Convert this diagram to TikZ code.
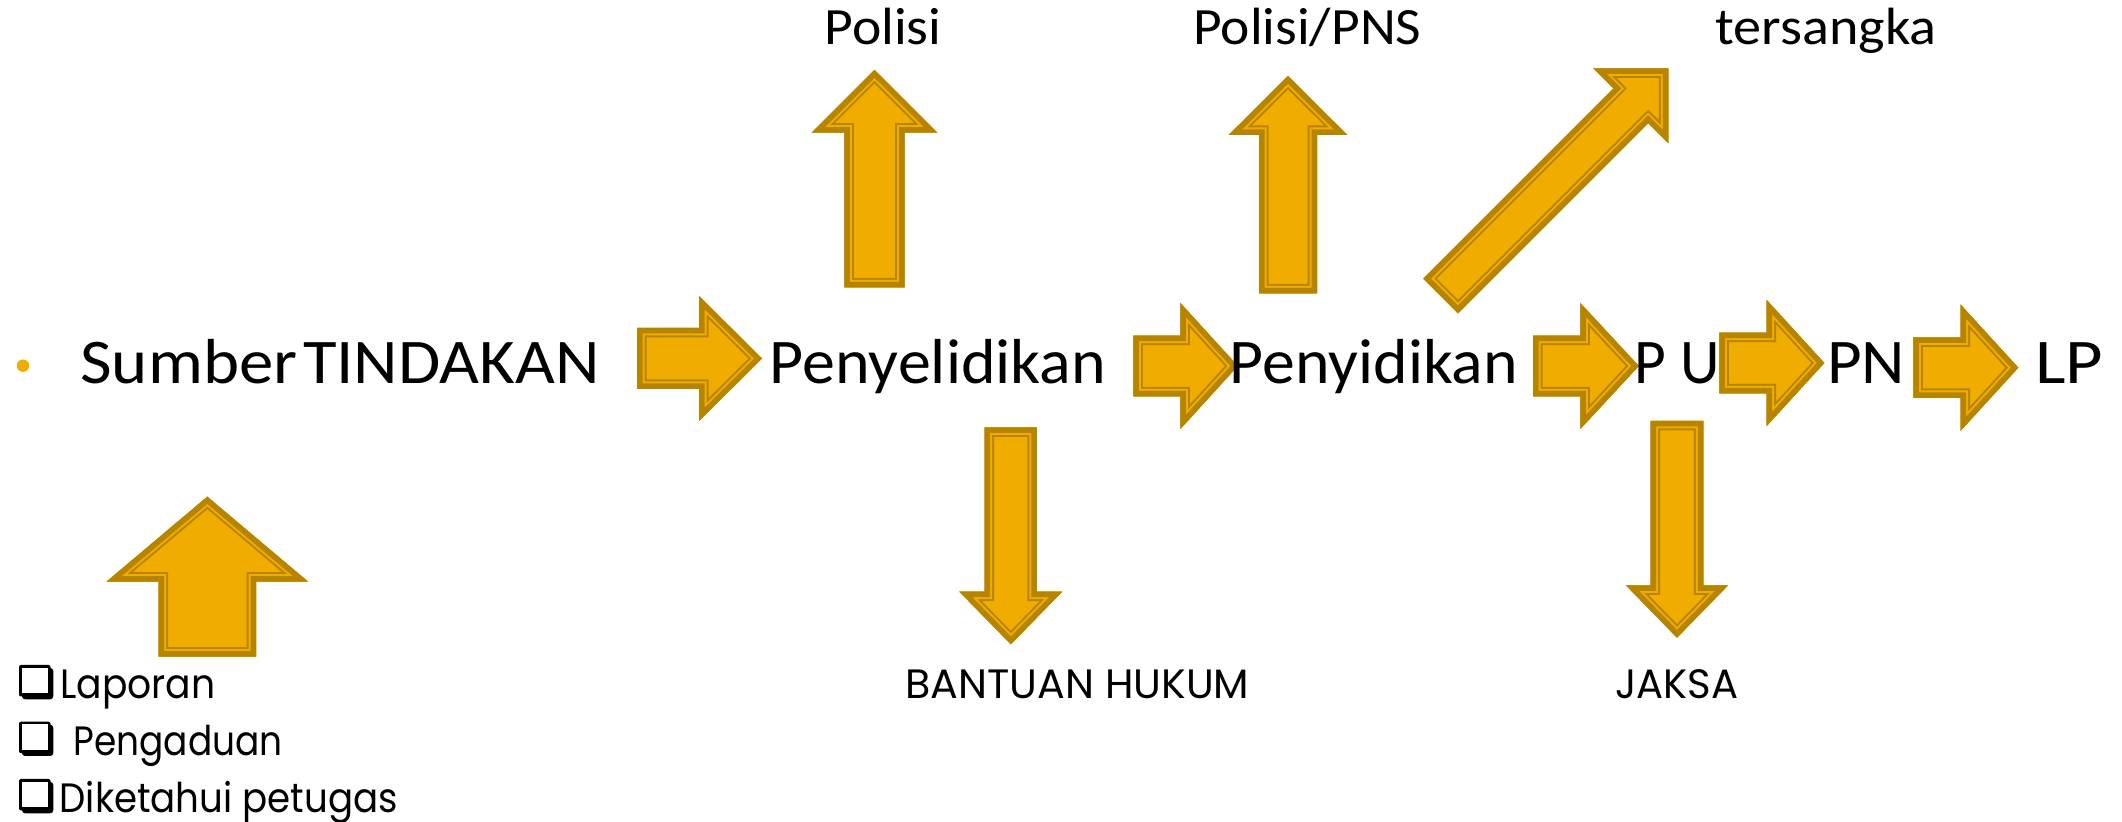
\documentclass[tikz,border=0pt]{standalone}
\usepackage{fontspec}
\usepackage{graphicx}
\setmainfont{Carlito}
\newfontfamily\popf{Poppins}
\definecolor{agold}{RGB}{240,173,0}
\definecolor{adark}{RGB}{183,132,0}
\newcommand{\apath}[4]{(-#1,-#2) -- (-#3,-#2) -- (-#3,-#4) -- (0,0) -- (-#3,#4) -- (-#3,#2) -- (-#1,#2) -- cycle}
\newcommand{\barrow}[7]{%
  \begin{scope}[shift={(#1,#2)},rotate=#3]
    \fill[agold] \apath{#4}{#5}{#6}{#7};
    \begin{scope}
      \clip \apath{#4}{#5}{#6}{#7};
      \draw[adark,line width=9.5pt,line join=miter] \apath{#4}{#5}{#6}{#7};
      \draw[agold,line width=7.5pt,line join=miter] \apath{#4}{#5}{#6}{#7};
      \draw[adark,line width=5.5pt,line join=miter] \apath{#4}{#5}{#6}{#7};
    \end{scope}
  \end{scope}}
\newcommand{\fitw}[2]{\resizebox{\dimexpr #1pt/2\relax}{\height}{#2}}
% shadowed check box, top-left corner at (#1,#2)
\newcommand{\chkbox}[2]{%
  \begin{scope}[shift={(#1,#2)}]
    \fill[black,rounded corners=1pt] (0,0) rectangle (31.5,31.5);
    \fill[black,rounded corners=1.5pt] (3,3) rectangle (34.3,34.3);
    \fill[white] (2.6,2.6) rectangle (29.2,28.4);
  \end{scope}}
\tikzset{
  maintext/.style={anchor=base west,inner sep=0pt,font=\fontsize{31.8pt}{38pt}\selectfont},
  toptext/.style={anchor=base west,inner sep=0pt,font=\fontsize{26.2pt}{31pt}\selectfont},
  lowtext/.style={anchor=base west,inner sep=0pt,font=\popf\fontsize{20.5pt}{25pt}\selectfont}
}
\begin{document}
\begin{tikzpicture}[x=0.5pt,y=-0.5pt]
\useasboundingbox (0,0) rectangle (2122,822);
\fill[white] (0,0) rectangle (2122,822);

% block arrows: tip x, tip y, angle, length, shaft half, head length, head half
\barrow{762}{358.5}{0}{125}{30.5}{63}{62.5}
\barrow{1237.8}{366}{0}{104.5}{30.3}{57.4}{63}
\barrow{1638.8}{366}{0}{105.6}{30.3}{58.5}{63}
\barrow{1824.3}{363}{0}{105}{30.3}{57.6}{63}
\barrow{2018.3}{367.7}{0}{105}{30.3}{57.6}{63}
\barrow{874.5}{70}{90}{217.3}{30.2}{62.7}{62.8}
\barrow{1288}{76}{90}{217.3}{29}{59}{59.3}
\barrow{1668.3}{68.3}{45}{322}{24.5}{53}{53}
\barrow{1010.8}{644.3}{-90}{217}{26.1}{52.6}{51.4}
\barrow{1677}{637.7}{-90}{216.7}{26.4}{52.4}{51.1}
\barrow{207.3}{496.7}{90}{160}{48.8}{85}{100.8}

% bullet
\fill[agold] (23,365.7) circle [radius=6.2];

% main row
\node[maintext] (sumber) at (80,384) {\fitw{519}{Sumber\kern0.08em TINDAKAN}};
\node[maintext] (penyel) at (769.5,384) {\fitw{336}{Penyelidikan}};
\node[maintext] (penyid) at (1229.5,384) {\fitw{288}{Penyidikan}};
\node[maintext] (pu) at (1634.5,384) {\fitw{85}{P U}};
\node[maintext] (pn) at (1826.8,384) {\fitw{78}{PN}};
\node[maintext] (lp) at (2034.8,384) {\fitw{68}{LP}};

% top labels
\node[toptext] (polisi) at (824,45) {\fitw{117}{Polisi}};
\node[toptext] (polisipns) at (1193,45) {\fitw{228}{Polisi/PNS}};
\node[toptext] (tersangka) at (1715,45) {\fitw{221}{tersangka}};

% bottom labels
\node[lowtext] (bantuan) at (905,698.3) {\fitw{344}{BANTUAN HUKUM}};
\node[lowtext] (jaksa) at (1614.7,698.3) {\fitw{123}{JAKSA}};

% list
\chkbox{19}{665}
\node[lowtext] (laporan) at (60,699) {\fitw{155}{Laporan}};
\chkbox{19}{721.7}
\node[lowtext] (pengaduan) at (73.3,756) {\fitw{209}{Pengaduan}};
\chkbox{19}{779}
\node[lowtext] (diketahui) at (59.3,813) {\fitw{338}{Diketahui petugas}};
\end{tikzpicture}
\end{document}
